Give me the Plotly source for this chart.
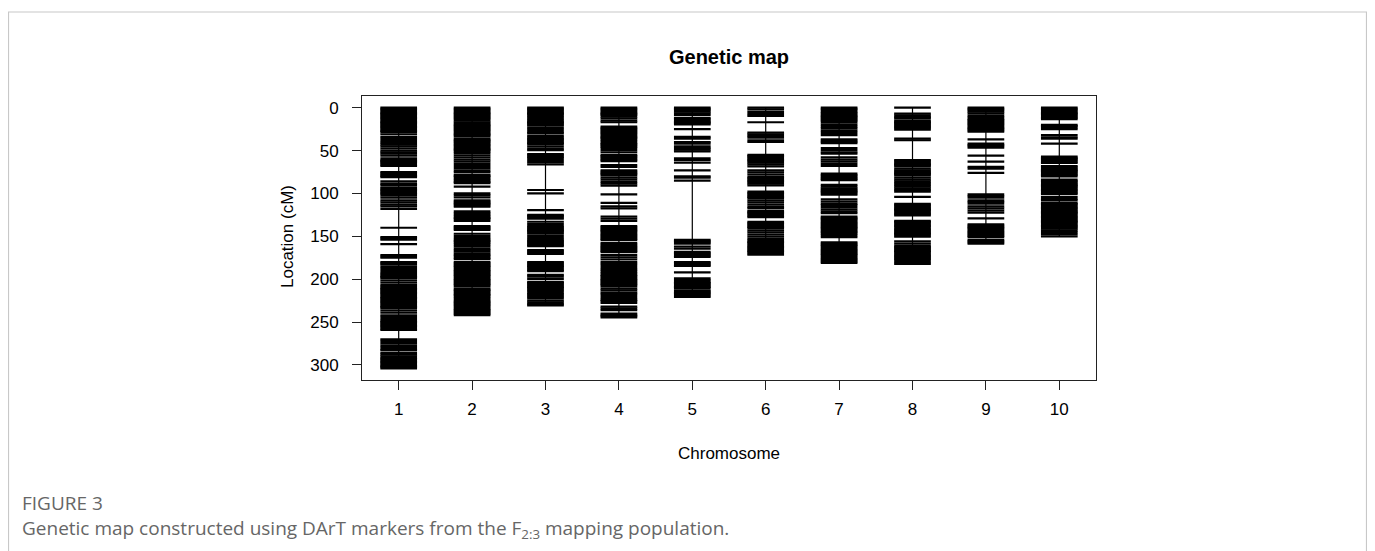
import plotly.graph_objects as go

# ---------------- data (marker positions in cM) ----------------
chromosomes = [1, 2, 3, 4, 5, 6, 7, 8, 9, 10]

chr1 = [0, 1.5, 3, 4.5, 6, 7.5, 9, 10.5, 12, 13.5, 15, 16.5, 18, 19.5, 21, 22.5, 24, 25.5, 27, 28.5,
        31, 34, 36.5, 39, 41, 43, 45, 47.5, 50, 52, 53.5, 56, 59, 61, 62, 63.5, 65, 66.5, 68,
        75, 76.5, 78, 79.5, 81,
        86, 88.5, 90, 93, 94.5, 96, 97.5, 99, 100.5, 102.5, 105, 108, 110.5, 113, 115, 118,
        140, 151, 152.5, 154, 159,
        172, 173.5, 175, 180, 181.5, 183, 185.5, 188, 190.5, 193, 194.5, 196, 197.5, 199, 201.5, 204,
        207, 208.5, 210, 211.5, 213, 214.5, 216, 217.5, 219, 220.5, 222, 223.5, 225, 226.5, 228, 229.5,
        231, 232.5, 234,
        236.5, 239, 242, 244, 246.5, 248.5, 250, 251.5, 253, 254.5, 256, 257.5, 259,
        270, 272, 274.5, 277, 279, 281.5, 283, 286, 288, 290, 292, 293.5, 295, 296.5, 298, 299.5,
        301, 302.5, 304]

chr2 = [0, 1.5, 3, 4.5, 6, 7.5, 9, 10.5, 12, 13.5, 15,
        17, 18.5, 20, 21.5, 23, 24.5, 26, 27.5, 29, 30.5, 32, 33.5,
        36, 37.5, 39, 40.5, 42, 43.5, 45, 46.5, 48, 49.5, 51,
        53, 55.5, 58, 60.5, 63, 65.5, 68, 70.5, 73, 75,
        78, 79.5, 81, 83, 85, 86.5, 88,
        92, 100, 102, 104.5, 108, 109.5, 111, 112.5, 114, 115.5,
        121, 123, 125, 127, 128.5, 130, 132,
        138, 139.5, 141, 142.5,
        147, 149.5, 152, 154, 155.5, 157, 159, 161.5, 164, 166, 168, 170, 171.5, 173, 175, 176.5,
        180, 181.5, 183, 184.5, 186, 187.5,
        189, 190.5, 192, 193.5, 195, 196.5, 198, 199.5, 201, 202.5, 204, 205.5, 207, 208.5,
        211, 212.5, 214, 215.5, 217, 218.5, 220, 222, 224, 226,
        227, 228.5, 230, 231.5, 233, 234.5, 236, 237.5, 239, 240.5, 242]

chr3 = [0, 1.5, 3, 4.5, 6, 7.5, 9,
        11, 13, 15, 16.5, 18, 19.5,
        21, 23.5, 26, 28.5, 30,
        33, 35, 36.5, 38, 39.5, 41, 42.5,
        45, 47.5, 49.5,
        54, 55.5, 57, 58.5, 61, 63.5, 66,
        96, 100,
        119.5, 125, 126.5, 128, 129.5, 133, 135.5,
        138, 139.5, 141, 142.5, 144, 145.5, 147, 149.5, 152,
        154, 155.5, 157, 158.5, 160, 161.5,
        166, 167.5, 169, 170.5,
        180, 181.5, 183, 184.5, 186, 187.5, 189, 190.5,
        195, 197, 199.5,
        203, 204.5, 206, 207.5, 209, 210.5, 212, 213.5,
        216, 217.5, 219, 220.5,
        222.5, 225, 227, 229, 230.5]

chr4 = [0, 1.5, 3, 4.5, 6, 7.5,
        8.5, 10.5, 12.5,
        15, 17,
        22, 23.5, 25, 26.5, 28, 29.5, 31, 32.5, 34, 35.5, 37,
        39, 41, 42.5, 44, 45.5,
        47, 49.5, 52,
        55, 56.5, 58, 59.5, 61, 62.5,
        67, 69,
        73, 74.5, 76, 77.5, 79,
        81.5, 84, 86.5, 88.5, 91,
        101, 111, 115, 117.5,
        127, 129.5, 132,
        138, 139.5, 141, 142.5, 144, 145.5, 147, 148.5, 150, 151.5, 153, 154.5,
        158, 159.5, 161, 162.5, 164, 165.5, 167, 168.5,
        172, 174.5, 177,
        180, 182, 184.5,
        187, 189, 191, 193,
        195, 196.5, 198, 199.5, 201, 202.5, 204, 205.5, 207, 208.5,
        211, 213, 215.5,
        217, 219.5, 222, 224,
        225.5, 227.5,
        232, 234, 236,
        240, 241.5, 243, 244.5]

chr5 = [0, 1.5, 3,
        4.5, 6.5, 8.5,
        12, 13.5, 15, 16.5, 18, 19.5,
        25, 34, 36, 40, 42, 45, 47, 49, 51,
        59, 61, 64, 73, 80, 81.5, 85,
        154, 155.5, 157, 158.5,
        162, 164.5,
        168, 169.5, 171, 172.5, 174,
        180, 181.5, 183, 184.5,
        192, 199, 201,
        203, 204.5, 206, 207.5, 209, 210.5,
        213, 214.5, 216, 217.5, 219, 220.5]

chr6 = [0, 2, 5, 7.5, 9.5, 17,
        29, 31, 33, 35, 38, 40,
        55, 56.5, 58, 59.5, 61, 62.5, 64, 66, 68.5,
        73, 75.5, 78,
        81, 82.5, 84, 85.5, 87, 88.5,
        90.5,
        98, 99.5, 101, 102.5, 104, 105.5,
        108, 110.5, 113, 115.5, 117,
        120, 121.5, 123, 124.5, 126, 127.5,
        133, 134.5, 136, 137.5, 139, 140.5,
        143, 145.5, 148, 150.5, 153,
        155, 156.5, 158, 159.5, 161, 162.5, 164, 165.5, 167, 168.5, 170, 171.5]

chr7 = [0, 1.5, 3,
        5, 6.5, 8, 9.5, 11, 12.5, 14, 15.5,
        17.5, 20, 22.5,
        24.5, 27, 29.5, 32,
        37, 38.5, 40, 41.5,
        47, 49.5, 52, 53.5,
        58, 60.5, 63, 65.5, 68,
        77, 78.5, 80, 81.5, 83, 84.5,
        90, 92,
        94, 95.5, 97, 98.5, 100, 101.5,
        107, 109.5, 112,
        113.5, 116, 118.5, 121, 123,
        127, 128.5, 130, 131.5, 133, 134.5, 136, 137.5, 139, 140.5, 142, 143.5, 145, 146.5,
        148.5, 151,
        157, 158.5, 160, 161.5, 163, 164.5,
        166, 167.5, 169, 170.5, 172, 173.5, 175, 176.5, 178, 179.5, 181]

chr8 = [0, 7, 9, 11, 12.5,
        15, 16.5, 18, 19.5, 21, 22.5, 24, 25.5,
        36, 38,
        61, 62.5, 64, 65.5, 67,
        68.5, 71, 73, 74.5, 76, 77.5,
        79, 81.5, 84, 86, 88, 90, 92, 94, 96, 98,
        104,
        112, 113.5, 115, 116.5, 118, 119.5, 121, 122.5, 124, 125.5,
        132, 133.5, 135, 136.5, 138, 139.5,
        141.5,
        143, 144.5, 146, 147.5, 149, 150.5,
        156, 158.5, 161, 162.5,
        164, 165.5, 167, 168.5, 170, 171.5, 173, 174.5, 176,
        177.5, 180, 182]

chr9 = [0, 1.5, 3, 4.5,
        6.5, 9, 11, 13, 14.5,
        16, 17.5, 19, 20.5, 22, 23.5, 25, 26.5, 28,
        37,
        42, 43.5, 45, 46.5,
        56, 63, 69, 71, 76,
        101, 103, 105, 108, 110, 112,
        115, 117.5, 120, 122.5,
        129,
        136, 137.5, 139, 140.5, 142, 143.5, 145, 146.5, 148, 149.5, 151,
        154, 155.5, 157, 158.5]

chr10 = [0, 1.5, 3, 4.5, 6, 7.5, 9, 10.5, 12, 13.5,
         20, 21.5, 23, 25,
         32, 34.5, 36, 42,
         57, 58.5, 60, 61.5, 63, 64.5,
         68, 69.5, 71, 72.5, 74, 75.5, 77, 78.5, 80,
         84, 85.5, 87, 88.5, 90, 91.5, 93, 94.5, 96, 97.5, 99, 100.5,
         104, 106.5, 108,
         111, 112.5, 114, 115.5,
         117, 118.5, 120, 121.5, 123, 124.5, 126, 127.5, 129,
         130.5, 132, 133.5, 135, 136.5, 138, 139.5, 141,
         143, 145, 147.5, 150]

markers = [chr1, chr2, chr3, chr4, chr5, chr6, chr7, chr8, chr9, chr10]
y_ticks = [0, 50, 100, 150, 200, 250, 300]

# ---------------- figure ----------------
HALF = 0.25
fig = go.Figure()

for c, pos in zip(chromosomes, markers):
    fig.add_trace(go.Scatter(x=[c, c], y=[min(pos), max(pos)], mode="lines",
                             line=dict(color="black", width=1.2),
                             hoverinfo="skip", showlegend=False))
    xs, ys = [], []
    for p in pos:
        xs += [c - HALF, c + HALF, None]
        ys += [p, p, None]
    fig.add_trace(go.Scatter(x=xs, y=ys, mode="lines",
                             line=dict(color="black", width=2.2),
                             name=f"Chr {c}", showlegend=False))

# page has an 8px body margin: figure is placed at (8, 8)
OFF = 8
W, H = 1367, 543
L, T = 354, 88
pw, ph = 734, 284
R = W - L - pw
B = H - T - ph


def px(page_x):
    return (page_x - OFF - L) / pw


def py(page_y):
    return (H - B - (page_y - OFF)) / ph


axis_font = dict(family="Liberation Sans, Arial, sans-serif", size=17, color="black")
cap_font = dict(family="Open Sans, Noto Sans, sans-serif", size=19, color="#666666")

fig.update_layout(
    width=W, height=H,
    margin=dict(l=L, r=R, t=T, b=B),
    paper_bgcolor="white", plot_bgcolor="white",
    title=dict(text="<b>Genetic map</b>", x=(L + pw / 2) / W, xanchor="center",
               y=1 - (57 - OFF) / H, yanchor="middle",
               font=dict(family="Liberation Sans, Arial, sans-serif", size=20, color="black")),
    xaxis=dict(range=[0.5, 10.5], tickvals=chromosomes, ticktext=[str(c) for c in chromosomes],
               showgrid=False, zeroline=False, showline=True, mirror=True,
               linecolor="#222", linewidth=1, ticks="outside", ticklen=9, tickcolor="#222",
               ticklabelstandoff=5, tickfont=axis_font),
    yaxis=dict(range=[317.5, -13.6], tickvals=y_ticks, showgrid=False, zeroline=False,
               showline=True, mirror=True, linecolor="#222", linewidth=1,
               ticks="outside", ticklen=9, tickcolor="#222",
               ticklabelstandoff=10, tickfont=axis_font),
    shapes=[dict(type="rect", xref="paper", yref="paper",
                 x0=px(8.5), x1=px(1366.5), y0=py(620), y1=py(12),
                 line=dict(color="#c8c8c8", width=1.2), fillcolor="rgba(0,0,0,0)", layer="below")],
    annotations=[
        dict(text="Location (cM)", xref="paper", yref="paper", x=px(287), y=py(237),
             textangle=-90, showarrow=False, font=axis_font, xanchor="center", yanchor="middle"),
        dict(text="Chromosome", xref="paper", yref="paper", x=px(729), y=py(454),
             showarrow=False, font=axis_font, xanchor="center", yanchor="middle"),
        dict(text="FIGURE 3", xref="paper", yref="paper", x=px(20), y=py(503),
             showarrow=False, xanchor="left", yanchor="middle", font=cap_font),
        dict(text="Genetic map constructed using DArT markers from the F<sub>2:3</sub> mapping population.",
             xref="paper", yref="paper", x=px(20), y=py(529),
             showarrow=False, xanchor="left", yanchor="middle", font=cap_font),
    ],
)

fig.write_html("out.html")
